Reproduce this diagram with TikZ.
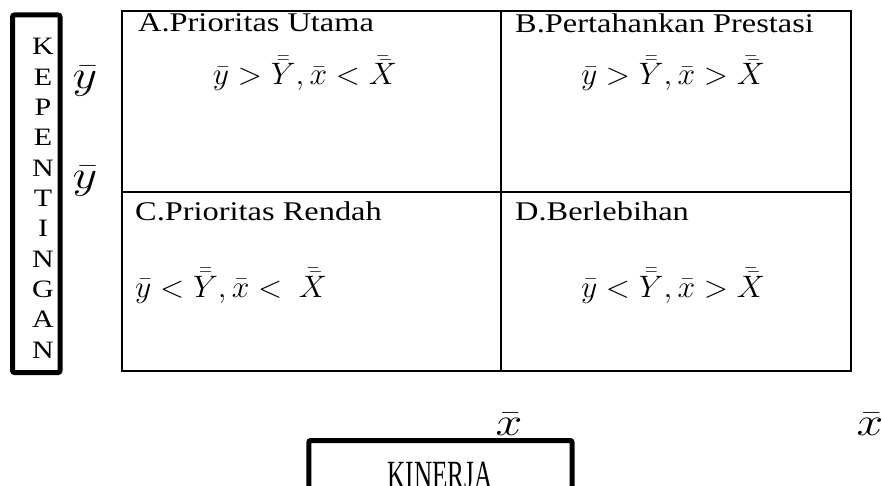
\RequirePackage{fix-cm}
\documentclass[tikz,border=0pt]{standalone}
\usepackage{fontspec}
\setmainfont{Liberation Serif}
\usepackage{graphicx}
\newcommand\stx[2][1.2]{\scalebox{#1}[1]{#2}}
\begin{document}
\begin{tikzpicture}[x=1pt,y=-1pt,
  cell/.style={draw, line width=2.5pt, inner sep=0pt},
  lbl/.style={anchor=base west, inner sep=0pt, font=\fontsize{27}{32}\selectfont},
  frm/.style={anchor=base, inner sep=0pt, font=\fontsize{31}{36}\selectfont},
  frmw/.style={anchor=base west, inner sep=0pt, font=\fontsize{31}{36}\selectfont},
  bigsym/.style={anchor=base, inner sep=0pt, font=\fontsize{40}{44}\selectfont},
  axisbox/.style={draw, line width=5pt, rounded corners=2pt, inner sep=0pt},
  vlet/.style={anchor=base, inner sep=0pt, font=\fontsize{25}{30}\selectfont}]
\useasboundingbox (0,0) rectangle (882,486);
% quadrant cells
\node[cell, minimum width=379pt, minimum height=181pt] (cA) at (311.5,101.5) {};
\node[cell, minimum width=350pt, minimum height=181pt] (cB) at (676,101.5) {};
\node[cell, minimum width=379pt, minimum height=179pt] (cC) at (311.5,281.5) {};
\node[cell, minimum width=350pt, minimum height=179pt] (cD) at (676,281.5) {};
% cell titles
\node[lbl] (tA) at (138,32) {\stx{A.Prioritas Utama}};
\node[lbl] (tB) at (515,33) {\stx{B.Pertahankan Prestasi}};
\node[lbl] (tC) at (135,220) {\stx{C.Prioritas Rendah}};
\node[lbl] (tD) at (515,220) {\stx{D.Berlebihan}};
% formulas
\node[frm] (fA) at (305,85) {\stx[1.02]{$\bar{y}>\bar{\bar{Y}},\bar{x}<\bar{\bar{X}}$}};
\node[frm] (fB) at (673,85) {\stx[1.02]{$\bar{y}>\bar{\bar{Y}},\bar{x}>\bar{\bar{X}}$}};
\node[frmw] (fC) at (135,297) {\stx[1.02]{$\bar{y}<\bar{\bar{Y}},\bar{x}<\ \bar{\bar{X}}$}};
\node[frm] (fD) at (673,297) {\stx[1.02]{$\bar{y}<\bar{\bar{Y}},\bar{x}>\bar{\bar{X}}$}};
% vertical axis label
\node[axisbox, minimum width=47.5pt, minimum height=357.5pt] (kepbox) at (36.25,193.75) {};
\foreach \c [count=\i from 0] in {K,E,P,E,N,T,I,N,G,A,N}
  \node[vlet] (kep\i) at (43,55+30.3*\i) {\stx{\c}};
\node[bigsym] (ybar1) at (85,89) {\stx{$\bar{y}$}};
\node[bigsym] (ybar2) at (85,189) {\stx{$\bar{y}$}};
% horizontal axis label
\node[bigsym] (xbar1) at (509,435) {\stx{$\bar{x}$}};
\node[bigsym] (xbar2) at (870,435) {\stx{$\bar{x}$}};
\node[axisbox, minimum width=263.2pt, minimum height=79.5pt] (kinbox) at (440.4,480.25) {};
\node[anchor=base, inner sep=0pt, font=\fontsize{40}{44}\selectfont] (kin) at (440,488.5) {\scalebox{0.63}[1]{KINERJA}};
\end{tikzpicture}
\end{document}
